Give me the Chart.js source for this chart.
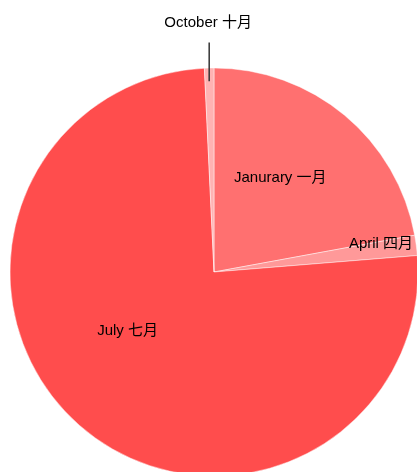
<!DOCTYPE html>
<html>
<head>
<meta charset="utf-8">
<script src="https://cdn.jsdelivr.net/npm/chart.js@4"></script>
<style>
  html, body { margin: 0; padding: 0; background: #fff; }
  #wrap { width: 417px; height: 472px; position: relative; }
</style>
</head>
<body>
<div id="wrap"><canvas id="chart"></canvas></div>
<script>
// datos del gráfico
const labels = ['Janurary 一月', 'April 四月', 'July 七月', 'October 十月'];
const values = [22.1, 1.6, 75.5, 0.75];
const colors = ['#ff7070', '#ff9999', '#ff4d4d', '#ffb3b3'];

// colocación de etiquetas: [fracción del radio, desplazamiento del ángulo en grados, fuera?]
const labelPlace = [
    [0.565, -4.7, false],
    [0.83, -2, false],
    [0.513, 14.3, false],
    [1.22, 0, true]
];

const sliceLabels = {
    id: 'sliceLabels',
    afterDatasetsDraw(chart) {
        const ctx = chart.ctx;
        const arcs = chart.getDatasetMeta(0).data;
        ctx.save();
        ctx.font = '15px "Liberation Sans", Arial, "Noto Sans CJK SC", sans-serif';
        ctx.fillStyle = '#000';
        ctx.textAlign = 'center';
        ctx.textBaseline = 'middle';
        arcs.forEach((arc, i) => {
            const p = arc.getProps(['x', 'y', 'startAngle', 'endAngle', 'outerRadius']);
            const [frac, shift, outside] = labelPlace[i];
            const mid = (p.startAngle + p.endAngle) / 2 + shift * Math.PI / 180;
            const r = p.outerRadius;
            const lx = p.x + Math.cos(mid) * r * frac;
            if (outside) {
                // línea guía vertical
                const gx = p.x + Math.cos(mid) * r;
                ctx.beginPath();
                ctx.strokeStyle = '#333';
                ctx.lineWidth = 1.5;
                ctx.moveTo(gx, p.y - r * 0.935);
                ctx.lineTo(gx, p.y - r * 1.125);
                ctx.stroke();
            }
            ctx.fillText(labels[i], lx, p.y + Math.sin(mid) * r * frac);
        });
        ctx.restore();
    }
};

new Chart(document.getElementById('chart'), {
    type: 'pie',
    data: {
        labels: labels,
        datasets: [{
            data: values,
            backgroundColor: colors,
            borderColor: 'rgba(255,255,255,0.45)',
            borderWidth: 1
        }]
    },
    options: {
        responsive: true,
        maintainAspectRatio: false,
        animation: false,
        radius: 204,
        layout: { padding: { left: 11, top: 72, right: 0, bottom: 0 } },
        plugins: {
            legend: { display: false },
            tooltip: { enabled: false }
        }
    },
    plugins: [sliceLabels]
});
</script>
</body>
</html>
